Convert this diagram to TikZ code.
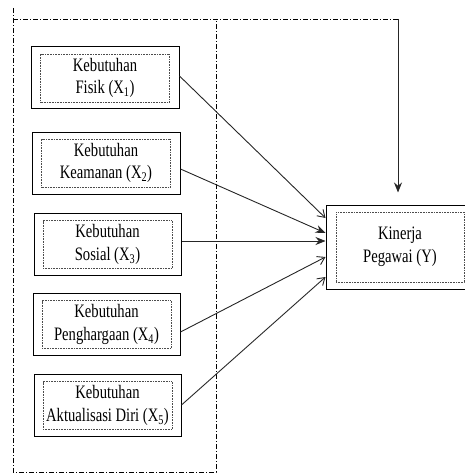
\documentclass[tikz,border=0pt]{standalone}
\usepackage{fontspec}
\setmainfont{Liberation Serif}[FakeStretch=0.77]
\usetikzlibrary{arrows.meta,calc}
\begin{document}
\begin{tikzpicture}[x=1pt,y=-1pt,
  outerbox/.style={draw,line width=1pt,minimum width=148pt,minimum height=62pt,inner sep=0pt},
  innerbox/.style={draw=black!70,dash pattern=on 0.8pt off 0.8pt,line width=0.6pt,minimum width=129pt,minimum height=48pt,inner sep=0pt,align=center,font=\fontsize{19}{22.5}\selectfont},
  dashdot/.style={line width=0.8pt,dash pattern=on 5pt off 2pt on 1pt off 2pt},
  conn/.style={line width=0.9pt,draw=black!85},
  fillhead/.style={-{Stealth[length=10pt,width=8pt]}},
  openhead/.style={-{Straight Barb[length=7pt,width=9pt]}}
]
\useasboundingbox (0,0) rectangle (465,476);
\clip (0,0) rectangle (465,476);
% frame
\coordinate (tl) at (13,19);
\coordinate (tr) at (398,19);
\coordinate (lt) at (13,8);
\coordinate (bl) at (13,472);
\coordinate (mt) at (216,19);
\coordinate (mb) at (216,472);
\draw[dashdot] (lt) -- (bl) -- (mb) -- (mt);
\draw[dashdot] (tl) -- (tr);
% boxes
\node[outerbox] (x1) at (105,78) {};
\node[innerbox] (x1t) at (x1) {Kebutuhan\\Fisik (X\textsubscript{1})};
\node[outerbox] (x2) at (106,163) {};
\node[innerbox] (x2t) at (x2) {Kebutuhan\\Keamanan (X\textsubscript{2})};
\node[outerbox,minimum width=147pt] (x3) at (107.5,244.5) {};
\node[innerbox] (x3t) at (x3) {Kebutuhan\\Sosial (X\textsubscript{3})};
\node[outerbox,minimum width=147pt] (x4) at (106.5,324.5) {};
\node[innerbox] (x4t) at (x4) {Kebutuhan\\Penghargaan (X\textsubscript{4})};
\node[outerbox,minimum width=147pt] (x5) at (107.5,405.5) {};
\node[innerbox] (x5t) at (x5) {Kebutuhan\\Aktualisasi Diri (X\textsubscript{5})};
\node[outerbox,minimum width=146pt,minimum height=84pt] (yb) at (399,247) {};
\node[innerbox,minimum width=128pt,minimum height=70pt] (ybt) at (400,247) {Kinerja\\Pegawai (Y)};
% connectors
\draw[conn,openhead] ([yshift=2pt]x1.east) -- ([yshift=29pt]yb.west);
\draw[conn,fillhead] ([yshift=-6pt]x2.east) -- ([yshift=14pt]yb.west);
\draw[conn,fillhead] ([yshift=3.5pt]x3.east) -- ([yshift=6pt]yb.west);
\draw[conn,openhead] ([yshift=-7.5pt]x4.east) -- ([yshift=-10pt]yb.west);
\draw[conn,openhead] ([yshift=0.5pt]x5.east) -- ([yshift=-30pt]yb.west);
\draw[conn,fillhead] (tr) -- ([yshift=12pt]yb.north -| tr);
\end{tikzpicture}
\end{document}
